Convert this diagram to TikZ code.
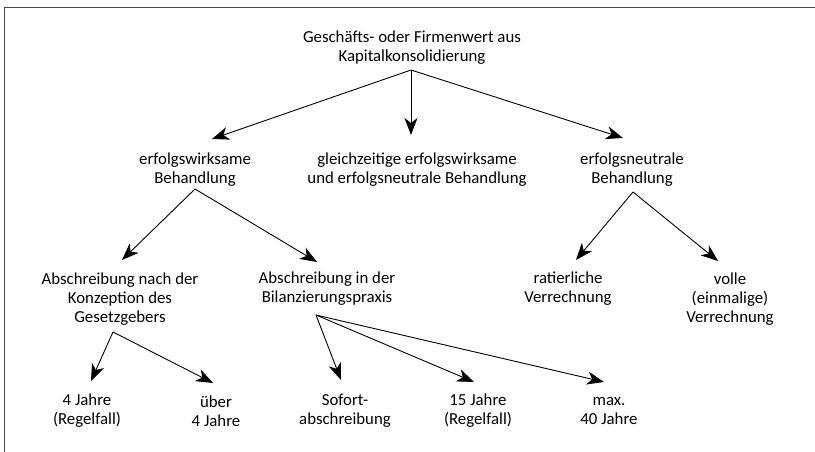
\documentclass[tikz,border=0pt]{standalone}
\usepackage{fontspec}
\setmainfont{Carlito}
\usetikzlibrary{arrows.meta}
\begin{document}
\begin{tikzpicture}[x=1pt,y=-1pt,
  lbl/.style={align=center,inner sep=0pt,font=\fontsize{16.8}{18.8}\selectfont},
  arr/.style={line width=0.9pt,-{Stealth[length=17pt,width=13pt,inset=5pt]}},
  frame/.style={line width=1.3pt,draw=black!72}]
\useasboundingbox (0,0) rectangle (815,452);
\draw[frame] (815,7.5) -- (4.5,7.5) -- (4.5,452);
% nodes
\node[lbl] (root) at (412,48) {Geschäfts- oder Firmenwert aus\\Kapitalkonsolidierung};
\node[lbl] (ew) at (195,170) {erfolgswirksame\\Behandlung};
\node[lbl] (gl) at (417,170) {gleichzeitige erfolgswirksame\\und erfolgsneutrale Behandlung};
\node[lbl] (en) at (632,170) {erfolgsneutrale\\Behandlung};
\node[lbl] (ag) at (120,299) {Abschreibung nach der\\Konzeption des\\Gesetzgebers};
\node[lbl] (ab) at (327,289) {Abschreibung in der\\Bilanzierungspraxis};
\node[lbl] (rv) at (568,289) {ratierliche\\Verrechnung};
\node[lbl] (vv) at (730,299) {volle\\(einmalige)\\Verrechnung};
\node[lbl] (j4) at (87,411) {4 Jahre\\(Regelfall)};
\node[lbl] (ub) at (216,411) {über\\4 Jahre};
\node[lbl] (so) at (345,411) {Sofort-\\abschreibung};
\node[lbl] (j15) at (478,411) {15 Jahre\\(Regelfall)};
\node[lbl] (m40) at (609,411) {max.\\40 Jahre};
% connector end points
\coordinate (o-root) at (411,70);
\coordinate (t-ew) at (212,139);
\coordinate (t-gl) at (411,135);
\coordinate (t-en) at (623,138);
\coordinate (o-ew) at (195,189);
\coordinate (t-ag) at (122,260);
\coordinate (t-ab) at (317,262);
\coordinate (o-en) at (633,192);
\coordinate (t-rv) at (576,260);
\coordinate (t-vv) at (718,261);
\coordinate (o-ag) at (113,332);
\coordinate (t-j4) at (91,381);
\coordinate (t-ub) at (213,383);
\coordinate (o-ab) at (316,315);
\coordinate (t-so) at (341,380);
\coordinate (t-j15) at (474,382);
\coordinate (t-m40) at (604,382);
% connectors
\draw[arr] (o-root) -- (t-ew);
\draw[arr] (o-root) -- (t-gl);
\draw[arr] (o-root) -- (t-en);
\draw[arr] (o-ew) -- (t-ag);
\draw[arr] (o-ew) -- (t-ab);
\draw[arr] (o-en) -- (t-rv);
\draw[arr] (o-en) -- (t-vv);
\draw[arr] (o-ag) -- (t-j4);
\draw[arr] (o-ag) -- (t-ub);
\draw[arr] (o-ab) -- (t-so);
\draw[arr] (o-ab) -- (t-j15);
\draw[arr] (o-ab) -- (t-m40);
\end{tikzpicture}
\end{document}
